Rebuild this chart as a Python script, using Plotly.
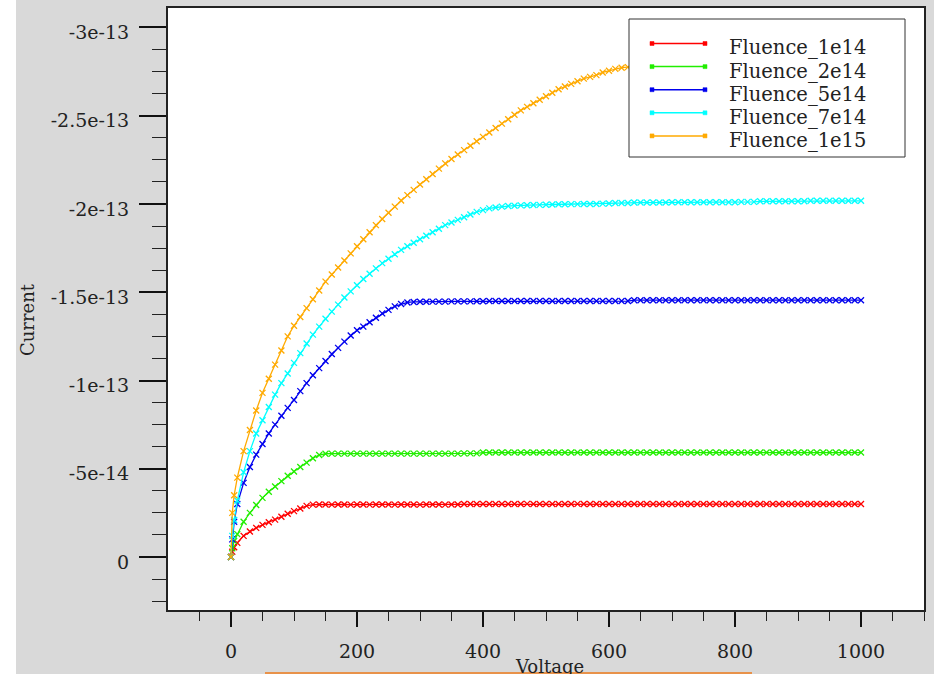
import plotly.graph_objects as go

# Voltage points (V)
voltage = [0, 2, 5] + list(range(10, 1001, 10))

# Currents in units of 1e-14 (magnitude; plotted negative)
fluence_1e14 = [0, 0.3, 0.55,
    0.8, 1.2, 1.45, 1.65, 1.82, 1.97, 2.12, 2.28, 2.45, 2.6,
    2.75, 2.9, 2.97, 2.98, 2.98, 2.97, 2.98, 2.98, 2.97, 2.98,
    2.98, 2.97, 2.98, 2.98, 2.98, 2.97, 2.98, 2.98, 2.98, 2.97,
    2.98, 2.98, 2.98, 2.97, 2.98, 2.98, 3.0, 3.0, 3.0, 3.0,
    3.0, 3.0, 3.0, 3.0, 3.0, 3.0, 3.01, 3.0, 3.0, 3.0,
    3.0, 3.0, 3.0, 3.0, 3.01, 3.0, 3.0, 3.0, 3.0, 3.0,
    3.0, 3.0, 3.0, 3.0, 3.0, 3.0, 3.0, 3.0, 3.0, 3.0,
    3.0, 3.0, 3.0, 3.0, 3.0, 3.0, 3.0, 3.0, 3.0, 3.0,
    3.0, 3.0, 3.0, 3.0, 3.0, 3.0, 3.0, 3.0, 3.0, 3.0,
    3.0, 3.0, 3.0, 3.0, 3.0, 3.0, 3.0, 3.0, 3.0, 3.0]

fluence_2e14 = [0, 0.5, 0.9,
    1.3, 2.0, 2.5, 2.95, 3.35, 3.7, 4.0, 4.3, 4.6, 4.85,
    5.1, 5.35, 5.6, 5.78, 5.85, 5.86, 5.86, 5.86, 5.86, 5.86,
    5.86, 5.86, 5.86, 5.86, 5.86, 5.86, 5.86, 5.86, 5.86, 5.86,
    5.86, 5.86, 5.86, 5.86, 5.86, 5.86, 5.87, 5.87, 5.87, 5.92,
    5.92, 5.92, 5.92, 5.92, 5.92, 5.92, 5.92, 5.92, 5.92, 5.92,
    5.92, 5.92, 5.92, 5.92, 5.92, 5.92, 5.92, 5.92, 5.92, 5.92,
    5.92, 5.92, 5.92, 5.92, 5.92, 5.92, 5.92, 5.92, 5.92, 5.92,
    5.92, 5.92, 5.92, 5.92, 5.92, 5.92, 5.92, 5.92, 5.92, 5.92,
    5.92, 5.92, 5.92, 5.92, 5.92, 5.92, 5.92, 5.92, 5.92, 5.92,
    5.92, 5.92, 5.92, 5.92, 5.92, 5.92, 5.92, 5.92, 5.92, 5.92]

fluence_5e14 = [0, 1.0, 2.0,
    3.0, 4.2, 5.1, 5.8, 6.4, 7.0, 7.5, 8.0, 8.45, 8.9,
    9.4, 9.85, 10.3, 10.7, 11.1, 11.5, 11.85, 12.2, 12.55, 12.85,
    13.05, 13.3, 13.55, 13.8, 14.0, 14.2, 14.33, 14.42, 14.45, 14.46,
    14.46, 14.47, 14.47, 14.47, 14.48, 14.48, 14.48, 14.48, 14.49, 14.49,
    14.5, 14.5, 14.5, 14.5, 14.5, 14.5, 14.5, 14.5, 14.5, 14.5,
    14.5, 14.5, 14.5, 14.5, 14.5, 14.5, 14.5, 14.5, 14.5, 14.5,
    14.5, 14.5, 14.5, 14.55, 14.55, 14.55, 14.55, 14.55, 14.55, 14.55,
    14.55, 14.55, 14.55, 14.55, 14.55, 14.55, 14.55, 14.55, 14.55, 14.55,
    14.55, 14.55, 14.55, 14.55, 14.55, 14.55, 14.55, 14.55, 14.55, 14.55,
    14.55, 14.55, 14.55, 14.55, 14.55, 14.55, 14.55, 14.55, 14.55, 14.55]

fluence_7e14 = [0, 1.2, 2.1,
    3.2, 4.8, 6.0, 7.0, 7.75, 8.5, 9.2, 9.85, 10.4, 11.0,
    11.55, 12.1, 12.6, 13.05, 13.5, 13.9, 14.3, 14.7, 15.05, 15.4,
    15.75, 16.05, 16.35, 16.65, 16.9, 17.15, 17.4, 17.6, 17.8, 18.0,
    18.2, 18.4, 18.6, 18.8, 18.95, 19.1, 19.25, 19.4, 19.55, 19.65,
    19.75, 19.8, 19.85, 19.88, 19.9, 19.92, 19.93, 19.94, 19.95, 19.96,
    19.97, 19.98, 19.98, 19.99, 19.99, 20.0, 20.0, 20.0, 20.02, 20.03,
    20.05, 20.05, 20.05, 20.08, 20.08, 20.08, 20.08, 20.08, 20.08, 20.1,
    20.1, 20.1, 20.1, 20.1, 20.1, 20.1, 20.1, 20.1, 20.1, 20.1,
    20.12, 20.12, 20.12, 20.15, 20.15, 20.15, 20.15, 20.15, 20.15, 20.15,
    20.15, 20.18, 20.18, 20.18, 20.18, 20.18, 20.18, 20.18, 20.18, 20.18]

fluence_1e15 = [0, 2.5, 3.5,
    4.5, 6.0, 7.2, 8.3, 9.3, 10.1, 10.9, 11.7, 12.5, 13.1,
    13.6, 14.1, 14.6, 15.1, 15.6, 16.0, 16.4, 16.8, 17.2, 17.6,
    18.0, 18.4, 18.8, 19.15, 19.5, 19.85, 20.2, 20.5, 20.8, 21.1,
    21.4, 21.7, 22.0, 22.3, 22.55, 22.8, 23.05, 23.3, 23.55, 23.8,
    24.05, 24.3, 24.55, 24.8, 25.05, 25.3, 25.5, 25.7, 25.9, 26.1,
    26.3, 26.5, 26.65, 26.8, 26.95, 27.1, 27.2, 27.3, 27.45, 27.55,
    27.65, 27.72, 27.75, 27.76, 27.77, 27.77, 27.78, 27.78, 27.78, 27.78,
    27.78, 27.78, 27.78, 27.78, 27.78, 27.78, 27.78, 27.78, 27.78, 27.78,
    27.78, 27.78, 27.78, 27.78, 27.78, 27.78, 27.78, 27.78, 27.78, 27.78,
    27.78, 27.78, 27.78, 27.78, 27.78, 27.78, 27.78, 27.78, 27.78, 27.78]

series_names = ["Fluence_1e14", "Fluence_2e14", "Fluence_5e14", "Fluence_7e14", "Fluence_1e15"]
series_values = [fluence_1e14, fluence_2e14, fluence_5e14, fluence_7e14, fluence_1e15]
series_colors = ["#ff0000", "#22ee00", "#0000ee", "#00ffff", "#ffaa00"]

y_tickvals = [-3e-13, -2.5e-13, -2e-13, -1.5e-13, -1e-13, -5e-14, 0]
y_ticktext = ["-3e-13", "-2.5e-13", "-2e-13", "-1.5e-13", "-1e-13", "-5e-14", "0"]
x_tickvals = [0, 200, 400, 600, 800, 1000]
x_ticktext = ["0", "200", "400", "600", "800", "1000"]

FONT = "DejaVu Serif"
W, H = 934, 674
L, R, T, B = 168, 10, 8, 64
PW, PH = W - L - R, H - T - B

def px(x):
    return (x - L) / PW

def py(y):
    return (H - B - y) / PH

fig = go.Figure()
for name, vals, col in zip(series_names, series_values, series_colors):
    fig.add_trace(go.Scatter(
        x=voltage, y=[-v * 1e-14 for v in vals], name=name, mode="lines+markers",
        line=dict(color=col, width=1.3), showlegend=False,
        marker=dict(symbol="x-thin", size=6, line=dict(color=col, width=1.3), color=col),
    ))

# Legend box drawn as layout decoration (opaque, covers the curves behind it)
shapes = [
    dict(type="rect", xref="paper", yref="paper", x0=px(629), x1=px(905),
         y0=py(157), y1=py(19), fillcolor="white", line=dict(color="#333", width=1),
         layer="above"),
    dict(type="rect", xref="paper", yref="paper", x0=px(0), x1=px(16),
         y0=py(H), y1=py(0), fillcolor="white", line=dict(width=0), layer="below"),
    dict(type="line", xref="paper", yref="paper", x0=px(265), x1=px(752),
         y0=py(673), y1=py(673), line=dict(color="#e8924a", width=2)),
]
annotations = [
    dict(text="Current", xref="paper", yref="paper", x=px(27), y=py(320),
         textangle=-90, showarrow=False, font=dict(family=FONT, size=18, color="#222"),
         xanchor="center", yanchor="middle"),
    dict(text="Voltage", xref="paper", yref="paper", x=px(549), y=py(654),
         showarrow=False, font=dict(family=FONT, size=18, color="#222"),
         xanchor="center", yanchor="top"),
]
for i, (name, col) in enumerate(zip(series_names, series_colors)):
    ly = 43.5 + i * 23.1
    shapes.append(dict(type="line", xref="paper", yref="paper", x0=px(650), x1=px(707),
                       y0=py(ly), y1=py(ly), line=dict(color=col, width=1.5), layer="above"))
    for mx in (652, 705):
        shapes.append(dict(type="rect", xref="paper", yref="paper",
                           x0=px(mx - 2), x1=px(mx + 2), y0=py(ly + 2), y1=py(ly - 2),
                           fillcolor=col, line=dict(color=col, width=0.5), layer="above"))
    annotations.append(dict(text=name, xref="paper", yref="paper", x=px(727), y=py(ly + 4.5),
                            xanchor="left", yanchor="middle", showarrow=False,
                            font=dict(family=FONT, size=19.5, color="#222")))

fig.update_layout(
    width=W, height=H,
    margin=dict(l=L, r=R, t=T, b=B, autoexpand=False),
    paper_bgcolor="#d9d9d9", plot_bgcolor="white",
    font=dict(family=FONT, size=17, color="#222"),
    showlegend=False,
    xaxis=dict(range=[-100, 1100], tickvals=x_tickvals, ticktext=x_ticktext,
               showgrid=False, zeroline=False, showline=True, linecolor="#222",
               linewidth=2, mirror=True, ticks="outside", ticklen=15, tickwidth=2,
               tickcolor="#111", ticklabelstandoff=8, tickfont=dict(size=19),
               minor=dict(tickvals=[-50, 50, 100, 150, 250, 300, 350, 450, 500, 550,
                                    650, 700, 750, 850, 900, 950, 1050, 1100],
                          ticks="outside", ticklen=9, tickwidth=1, tickcolor="#222")),
    yaxis=dict(range=[3.0e-14, -3.11e-13], tickvals=y_tickvals, ticktext=y_ticktext,
               showgrid=False, zeroline=False, showline=True, linecolor="#222",
               linewidth=2, mirror=True, ticks="outside", ticklen=27, tickwidth=2,
               tickcolor="#111", ticklabelstandoff=6, ticklabelshift=-5,
               tickfont=dict(size=19),
               minor=dict(dtick=1.25e-14, tick0=0, ticks="outside", ticklen=14,
                          tickwidth=1, tickcolor="#222")),
    shapes=shapes,
    annotations=annotations,
)

fig.write_html("out.html", config={"displayModeBar": False},
               post_script="document.body.style.margin='0';document.body.style.overflow='hidden';")
